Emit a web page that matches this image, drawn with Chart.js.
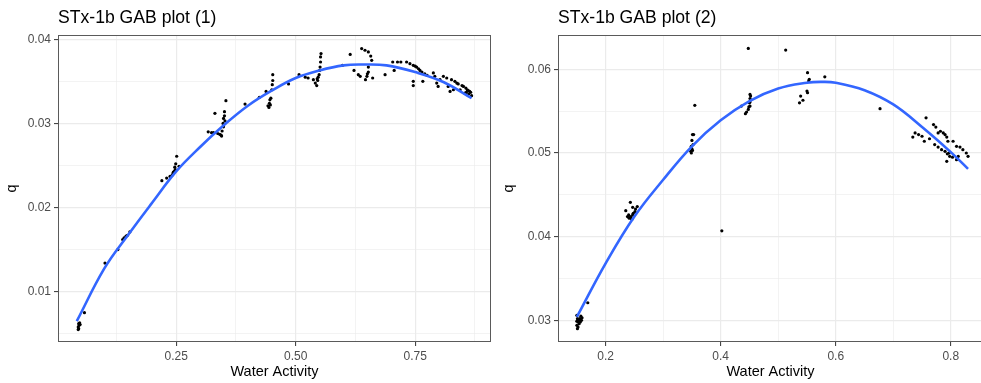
<!DOCTYPE html>
<html>
<head>
<meta charset="utf-8">
<script src="https://cdn.jsdelivr.net/npm/chart.js@4.4.1/dist/chart.umd.min.js"></script>
<style>
  html, body { margin: 0; background: #fff; overflow: hidden; }
  #wrap { position: relative; width: 981px; height: 383px; overflow: hidden; }
  canvas { position: absolute; top: 0; }
  #gab1 { left: 0; }
  #gab2 { left: 495px; }
</style>
</head>
<body>
<div id="wrap">
  <canvas id="gab1" width="495" height="383"></canvas>
  <canvas id="gab2" width="492" height="383"></canvas>
</div>
<script>
// sample 1: measured points (water activity, q)
const aw1 = [0.045, 0.046, 0.047, 0.046, 0.048, 0.045, 0.049, 0.058,
  0.101, 0.128, 0.138, 0.141, 0.145, 0.148, 0.153,
  0.220, 0.230, 0.237, 0.241, 0.243, 0.246, 0.247, 0.249, 0.251, 0.256, 0.248, 0.244,
  0.317, 0.324, 0.328, 0.331, 0.337, 0.341, 0.344, 0.346, 0.349, 0.348, 0.349, 0.351, 0.351, 0.354, 0.352, 0.345,
  0.394, 0.424, 0.438, 0.442, 0.444, 0.445, 0.446, 0.448, 0.450, 0.451, 0.452, 0.452, 0.447,
  0.485, 0.507, 0.520, 0.526, 0.537, 0.541, 0.544, 0.546, 0.549, 0.550, 0.551, 0.552, 0.552, 0.553, 0.547, 0.545,
  0.598, 0.614, 0.622, 0.631, 0.635, 0.638, 0.645, 0.652, 0.657, 0.659, 0.652, 0.652, 0.649, 0.646, 0.661, 0.650,
  0.687, 0.703, 0.706, 0.713, 0.720, 0.732, 0.739, 0.746, 0.750, 0.753, 0.757, 0.760, 0.764, 0.766, 0.746, 0.746,
  0.770, 0.775, 0.788, 0.791, 0.795, 0.798, 0.802, 0.809, 0.816, 0.819, 0.823, 0.826, 0.830, 0.833, 0.837, 0.840,
  0.844, 0.848, 0.851, 0.854, 0.856, 0.859, 0.861, 0.864, 0.866, 0.868, 0.862, 0.857];
const q1 = [0.0058, 0.0062, 0.0060, 0.0056, 0.0063, 0.0055, 0.0061, 0.0075,
  0.0134, 0.0150, 0.0162, 0.0164, 0.0166, 0.0167, 0.0171,
  0.0232, 0.0235, 0.0237, 0.0238, 0.0240, 0.0243, 0.0248, 0.0252, 0.0261, 0.0249, 0.0245, 0.0242,
  0.0290, 0.0289, 0.0289, 0.0312, 0.0288, 0.0287, 0.0286, 0.0291, 0.0296, 0.0300, 0.0306, 0.0309, 0.0314, 0.0327, 0.0303, 0.0285,
  0.0323, 0.0331, 0.0338, 0.0321, 0.0319, 0.0324, 0.0328, 0.0330, 0.0340, 0.0346, 0.0351, 0.0358, 0.0322,
  0.0347, 0.0358, 0.0355, 0.0354, 0.0352, 0.0348, 0.0345, 0.0351, 0.0358, 0.0363, 0.0367, 0.0373, 0.0379, 0.0383, 0.0355, 0.0353,
  0.0369, 0.0382, 0.0363, 0.0358, 0.0356, 0.0389, 0.0387, 0.0385, 0.0380, 0.0375, 0.0367, 0.0361, 0.0356, 0.0352, 0.0354, 0.0359,
  0.0358, 0.0373, 0.0363, 0.0373, 0.0373, 0.0373, 0.0371, 0.0369, 0.0368, 0.0367, 0.0365, 0.0363, 0.0361, 0.0350, 0.0345, 0.0350,
  0.0359, 0.0357, 0.0360, 0.0356, 0.0348, 0.0344, 0.0352, 0.0356, 0.0354, 0.0344, 0.0338, 0.0352, 0.0340, 0.0350, 0.0348, 0.0347,
  0.0340, 0.0345, 0.0344, 0.0336, 0.0342, 0.0340, 0.0339, 0.0338, 0.0337, 0.0333, 0.0335, 0.0337];

// sample 1: fitted curve
const fitAw1 = [0.042, 0.10, 0.15, 0.20, 0.25, 0.30, 0.35, 0.40, 0.45, 0.50, 0.55, 0.60, 0.64, 0.69, 0.75, 0.81, 0.868];
const fitQ1 = [0.0065, 0.0128, 0.0168, 0.0206, 0.0243, 0.0272, 0.0298, 0.0321, 0.0339, 0.0354, 0.0363, 0.0369, 0.0370, 0.0369, 0.0361, 0.0349, 0.0330];

// sample 2: measured points
const aw2 = [0.150, 0.151, 0.152, 0.150, 0.151, 0.153, 0.155, 0.156, 0.158, 0.159, 0.154, 0.152, 0.157, 0.150,
  0.169,
  0.235, 0.243, 0.247, 0.255, 0.240, 0.244, 0.248, 0.251, 0.241, 0.245, 0.243, 0.247, 0.246, 0.252, 0.238,
  0.402,
  0.355, 0.351, 0.353, 0.350, 0.349, 0.348, 0.349, 0.350, 0.352, 0.351,
  0.448, 0.443, 0.445, 0.448, 0.451, 0.451, 0.451, 0.451, 0.450, 0.436, 0.452, 0.449,
  0.513, 0.551, 0.554, 0.553, 0.550, 0.551, 0.539, 0.543, 0.537, 0.581,
  0.677,
  0.734, 0.738, 0.744, 0.750, 0.754, 0.757, 0.763, 0.770, 0.774, 0.778, 0.782, 0.787, 0.790, 0.793, 0.795,
  0.804, 0.810, 0.816, 0.821, 0.827, 0.830, 0.772, 0.778, 0.784, 0.790, 0.794, 0.798, 0.803, 0.810, 0.793, 0.797, 0.813];
const q2 = [0.0306, 0.0302, 0.0298, 0.0294, 0.0290, 0.0300, 0.0302, 0.0298, 0.0300, 0.0303, 0.0296, 0.0292, 0.0305, 0.0299,
  0.0321,
  0.0431, 0.0441, 0.0435, 0.0436, 0.0426, 0.0424, 0.0428, 0.0430, 0.0422, 0.0421, 0.0423, 0.0426, 0.0421, 0.0433, 0.0424,
  0.0407,
  0.0557, 0.0522, 0.0522, 0.0515, 0.0508, 0.0502, 0.0500, 0.0505, 0.0510, 0.0503,
  0.0625, 0.0547, 0.0549, 0.0552, 0.0556, 0.0561, 0.0565, 0.0570, 0.0560, 0.0556, 0.0568, 0.0555,
  0.0623, 0.0596, 0.0588, 0.0586, 0.0574, 0.0572, 0.0568, 0.0563, 0.0560, 0.0591,
  0.0553,
  0.0519, 0.0524, 0.0522, 0.0520, 0.0514, 0.0542, 0.0517, 0.0534, 0.0531, 0.0524, 0.0526, 0.0524, 0.0522, 0.0519, 0.0514,
  0.0514, 0.0508, 0.0507, 0.0504, 0.0500, 0.0496, 0.0510, 0.0507, 0.0504, 0.0502, 0.0499, 0.0496, 0.0495, 0.0492, 0.0490, 0.0500, 0.0496];

// sample 2: fitted curve
const fitAw2 = [0.150, 0.20, 0.25, 0.30, 0.35, 0.40, 0.45, 0.50, 0.55, 0.575, 0.60, 0.65, 0.70, 0.75, 0.80, 0.830];
const fitQ2 = [0.0304, 0.0368, 0.0424, 0.0468, 0.0508, 0.0539, 0.0562, 0.0577, 0.0584, 0.0585, 0.0584, 0.0575, 0.0558, 0.0531, 0.0501, 0.0481];

// axis ticks
const xMajor1 = [0.25, 0.50, 0.75];
const xMinor1 = [0.125, 0.375, 0.625, 0.875];
const xLabels1 = ['0.25', '0.50', '0.75'];
const yMajor1 = [0.01, 0.02, 0.03, 0.04];
const yMinor1 = [0.005, 0.015, 0.025, 0.035];
const yLabels1 = ['0.01', '0.02', '0.03', '0.04'];

const xMajor2 = [0.2, 0.4, 0.6, 0.8];
const xMinor2 = [0.3, 0.5, 0.7];
const xLabels2 = ['0.2', '0.4', '0.6', '0.8'];
const yMajor2 = [0.03, 0.04, 0.05, 0.06];
const yMinor2 = [0.035, 0.045, 0.055];
const yLabels2 = ['0.03', '0.04', '0.05', '0.06'];

Chart.defaults.font.family = '"Liberation Sans", Arial, Helvetica, sans-serif';

function pairs(xs, ys) {
    return xs.map((x, i) => ({x: x, y: ys[i]}));
}

// panel border + left aligned title over the plot area
const panelDecor = {
    id: 'panelDecor',
    afterDraw(chart, args, opts) {
        const {ctx, chartArea: a} = chart;
        ctx.save();
        ctx.strokeStyle = '#5a5a5a';
        ctx.lineWidth = 1;
        ctx.strokeRect(a.left + 0.5, a.top + 0.5, a.right - a.left - 1, a.bottom - a.top - 1);
        ctx.fillStyle = '#000';
        ctx.font = '17.6px "Liberation Sans", Arial, sans-serif';
        ctx.textAlign = 'left';
        ctx.textBaseline = 'alphabetic';
        ctx.fillText(opts.text, a.left, 23);
        ctx.restore();
    }
};

function axis(major, minor, labels, min, max, fit, extra) {
    const isMajor = v => major.some(m => Math.abs(m - v) < 1e-9);
    return Object.assign({
        type: 'linear',
        min: min,
        max: max,
        afterBuildTicks: s => {
            s.ticks = major.concat(minor).sort((a, b) => a - b).map(v => ({value: v}));
        },
        afterFit: fit,
        border: {display: false},
        grid: {
            color: '#EBEBEB',
            lineWidth: c => (c.tick && isMajor(c.tick.value)) ? 1.2 : 0.6,
            tickColor: c => (c.tick && isMajor(c.tick.value)) ? '#333333' : 'rgba(0,0,0,0)',
            tickLength: 4,
            tickWidth: 1
        },
        ticks: {
            color: '#4D4D4D',
            font: {size: 12},
            autoSkip: false,
            maxRotation: 0,
            callback: v => {
                let i = major.findIndex(m => Math.abs(m - v) < 1e-9);
                return i >= 0 ? labels[i] : '';
            }
        }
    }, extra);
}

function makePanel(id, cfg) {
    new Chart(document.getElementById(id), {
        type: 'scatter',
        data: {
            datasets: [
                {
                    data: pairs(cfg.fitAw, cfg.fitQ),
                    showLine: true,
                    borderColor: '#3366FF',
                    borderWidth: 2.6,
                    pointRadius: 0,
                    tension: 0.4,
                    order: 0
                },
                {
                    data: pairs(cfg.aw, cfg.q),
                    backgroundColor: '#000',
                    borderWidth: 0,
                    pointRadius: 1.6,
                    order: 1
                }
            ]
        },
        options: {
            responsive: false,
            animation: false,
            layout: {padding: {top: 35, right: cfg.padRight, left: 0, bottom: 0}},
            plugins: {
                legend: {display: false},
                tooltip: {enabled: false},
                panelDecor: {text: cfg.title}
            },
            scales: {
                x: axis(cfg.xMajor, cfg.xMinor, cfg.xLabels, cfg.xMin, cfg.xMax, s => { s.height = 41; }, {
                    title: {display: true, text: 'Water Activity', color: '#000', font: {size: 14.5}, padding: {top: 0, bottom: 2}}
                }),
                y: axis(cfg.yMajor, cfg.yMinor, cfg.yLabels, cfg.yMin, cfg.yMax, s => { s.width = cfg.yWidth; }, {
                    title: {display: true, text: 'q', color: '#000', font: {size: 14.5}, padding: {top: cfg.qPad, bottom: 0}}
                })
            }
        },
        plugins: [panelDecor]
    });
}

makePanel('gab1', {
    title: 'STx-1b GAB plot (1)',
    aw: aw1, q: q1, fitAw: fitAw1, fitQ: fitQ1,
    xMajor: xMajor1, xMinor: xMinor1, xLabels: xLabels1, xMin: 0.0027, xMax: 0.9086,
    yMajor: yMajor1, yMinor: yMinor1, yLabels: yLabels1, yMin: 0.00402, yMax: 0.04051,
    yWidth: 58, padRight: 4, qPad: 3
});

makePanel('gab2', {
    title: 'STx-1b GAB plot (2)',
    aw: aw2, q: q2, fitAw: fitAw2, fitQ: fitQ2,
    xMajor: xMajor2, xMinor: xMinor2, xLabels: xLabels2, xMin: 0.1172, xMax: 0.856,
    yMajor: yMajor2, yMinor: yMinor2, yLabels: yLabels2, yMin: 0.02741, yMax: 0.0641,
    yWidth: 63, padRight: 0, qPad: 5
});
</script>
</body>
</html>
